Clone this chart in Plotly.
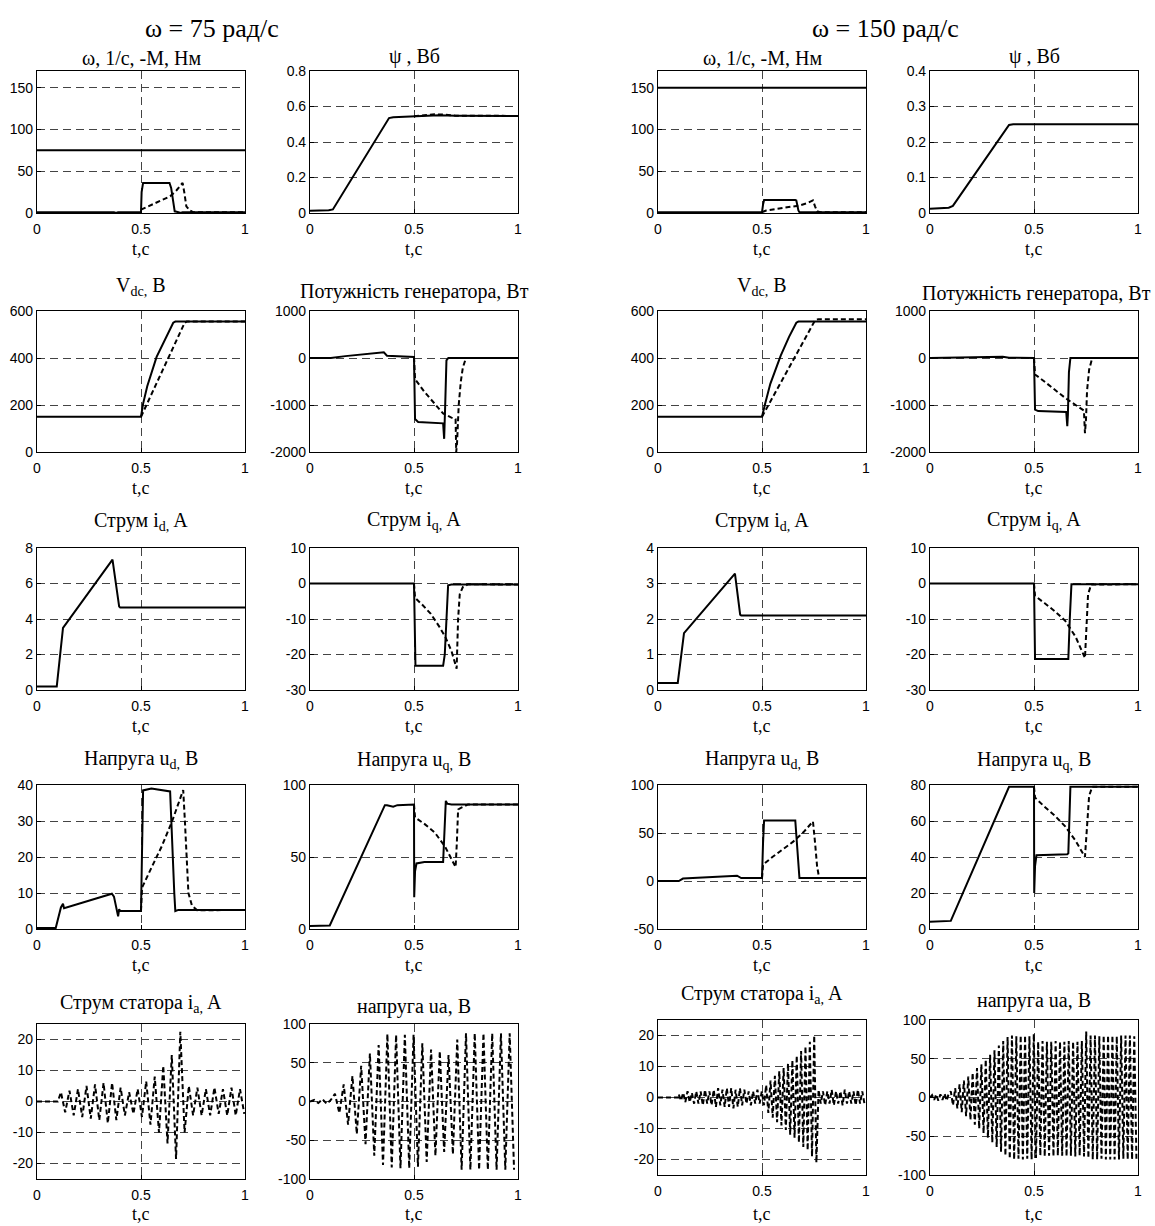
import numpy as np
import plotly.graph_objects as go

# ====================== DATA: ω = 75 рад/с ======================
t_const = [0, 1]
w75 = [75, 75]
m75_sol_t = [0, 0.37, 0.38, 0.39, 0.5, 0.503, 0.51, 0.6, 0.637, 0.645, 0.655, 0.662, 0.68, 0.69, 0.7, 1]
m75_sol_y = [1, 1, 0, 1, 1, 25, 36, 36, 36, 30, 10, 2, 1, 0, 1, 1]
m75_dsh_t = [0.5, 0.55, 0.6, 0.64, 0.67, 0.70, 0.708, 0.718, 0.735, 0.75, 1]
m75_dsh_y = [4, 10, 15, 20, 27, 36, 25, 8, 3, 1, 1]

psi75_t = [0, 0.09, 0.11, 0.38, 0.40, 0.5, 0.6, 0.62, 0.7, 1]
psi75_y = [0.012, 0.015, 0.02, 0.535, 0.54, 0.545, 0.552, 0.55, 0.548, 0.547]
psi75d_t = [0.5, 0.55, 0.6, 0.65, 0.7, 1]
psi75d_y = [0.545, 0.55, 0.556, 0.554, 0.548, 0.547]

vdc75_sol_t = [0, 0.5, 0.51, 0.53, 0.575, 0.62, 0.655, 0.665, 1]
vdc75_sol_y = [150, 150, 205, 280, 405, 490, 550, 555, 555]
vdc75_dsh_t = [0.5, 0.71, 0.72, 1]
vdc75_dsh_y = [150, 550, 555, 555]

p75_sol_t = [0, 0.1, 0.17, 0.27, 0.34, 0.355, 0.37, 0.49, 0.5, 0.505, 0.52, 0.64, 0.645, 0.65, 0.656, 0.665, 1]
p75_sol_y = [0, 0, 40, 80, 110, 120, 50, 20, 20, -1300, -1360, -1390, -1720, -1000, -50, 0, 0]
p75_dsh_t = [0.5, 0.505, 0.55, 0.6, 0.64, 0.68, 0.70, 0.703, 0.707, 0.715, 0.725, 0.735, 0.75, 1]
p75_dsh_y = [20, -450, -720, -980, -1180, -1270, -1300, -2000, -1800, -1000, -500, -200, 0, 0]

id75_t = [0, 0.095, 0.125, 0.363, 0.395, 0.4, 1]
id75_y = [0.2, 0.2, 3.5, 7.35, 4.7, 4.65, 4.65]

iq75_sol_t = [0, 0.5, 0.507, 0.64, 0.648, 0.664, 0.68, 1]
iq75_sol_y = [0, 0, -23.2, -23.2, -20, -0.5, -0.3, -0.3]
iq75_dsh_t = [0.5, 0.505, 0.54, 0.58, 0.62, 0.65, 0.68, 0.705, 0.712, 0.72, 0.735, 0.76, 1]
iq75_dsh_y = [0, -4, -6, -8.5, -12, -15, -19, -24, -10, -3, -1, -0.2, -0.3]

ud75_sol_t = [0, 0.09, 0.115, 0.125, 0.13, 0.36, 0.37, 0.385, 0.39, 0.395, 0.4, 0.5, 0.505, 0.51, 0.55, 0.6, 0.64, 0.66, 0.665, 0.68, 1]
ud75_sol_y = [0.3, 0.3, 6, 7, 5.8, 9.8, 9, 5.5, 3.5, 5.5, 5, 5, 20, 38.5, 39, 38.6, 38.2, 10, 5, 5.3, 5.3]
ud75_dsh_t = [0.5, 0.505, 0.55, 0.6, 0.65, 0.703, 0.711, 0.72, 0.728, 0.745, 0.77, 1]
ud75_dsh_y = [5, 11.5, 17, 23, 30, 38.6, 30, 18, 10, 6.5, 5.2, 5.3]

uq75_sol_t = [0, 0.095, 0.36, 0.37, 0.4, 0.42, 0.5, 0.501, 0.505, 0.512, 0.55, 0.64, 0.653, 0.66, 0.68, 1]
uq75_sol_y = [2, 2.5, 86, 86, 85, 86, 86.5, 22, 40, 45.5, 46.5, 46.5, 89, 87, 86.5, 86.5]
uq75_dsh_t = [0.5, 0.505, 0.55, 0.6, 0.65, 0.69, 0.70, 0.706, 0.712, 0.73, 0.76, 1]
uq75_dsh_y = [86.5, 77.5, 73, 67, 57, 46, 43, 60, 83, 84.5, 86.5, 86.5]

# stator current / voltage: peak values per cycle (upper, lower)
ia75_pre_t = [0, 0.1]
ia75_pre_y = [0, 0]
ia75_t0, ia75_half = 0.115, 0.0205
ia75_up = [3, 3.5, 4, 5, 5.5, 6, 6, 4.5, 3, 4, 6.5, 8, 11.5, 15, 22.5, 5, 4.5, 4, 4.5, 4, 4.5, 4]
ia75_lo = [-3.5, -4.5, -5, -5.5, -6, -7, -6, -4.5, -4, -5, -7.5, -10, -13.5, -18.5, -10, -4.5, -4.5, -4.5, -4, -4.5, -4.5, -4]

ua75_pre_t = [0, 0.02, 0.04, 0.06, 0.08, 0.1]
ua75_pre_y = [0, 2, -2, 3, -3, 2]
ua75_t0, ua75_half = 0.12, 0.021
ua75_up = [10, 22, 33, 46, 62, 73, 87, 86, 86, 86, 75, 67, 65, 60, 80, 88, 88, 88, 88, 88, 88]
ua75_lo = [-15, -30, -42, -55, -70, -82, -85, -86, -86, -84, -78, -70, -65, -68, -88, -88, -88, -88, -88, -88, -88]

# ====================== DATA: ω = 150 рад/с ======================
w150 = [150, 150]
m150_sol_t = [0, 0.5, 0.505, 0.51, 0.66, 0.665, 0.675, 0.68, 1]
m150_sol_y = [1, 1, 10, 15.5, 15.5, 15, 3, 1, 1]
m150_dsh_t = [0.5, 0.52, 0.6, 0.68, 0.72, 0.745, 0.755, 0.765, 0.78, 1]
m150_dsh_y = [1, 3, 6, 9, 12, 15, 8, 2, 1, 1]

psi150_t = [0, 0.09, 0.11, 0.38, 0.4, 1]
psi150_y = [0.012, 0.015, 0.02, 0.248, 0.25, 0.25]

vdc150_sol_t = [0, 0.5, 0.515, 0.54, 0.59, 0.63, 0.665, 0.675, 1]
vdc150_sol_y = [150, 150, 205, 290, 410, 490, 550, 555, 555]
vdc150_dsh_t = [0.5, 0.755, 0.77, 1]
vdc150_dsh_y = [150, 560, 565, 565]

p150_sol_t = [0, 0.3, 0.35, 0.38, 0.5, 0.505, 0.52, 0.655, 0.66, 0.663, 0.668, 0.675, 1]
p150_sol_y = [0, 10, 25, 5, 0, -1100, -1130, -1150, -1450, -1200, -300, 0, 0]
p150_dsh_t = [0.5, 0.505, 0.55, 0.6, 0.65, 0.7, 0.74, 0.745, 0.75, 0.755, 0.765, 0.78, 1]
p150_dsh_y = [0, -350, -500, -680, -850, -1000, -1120, -1600, -1300, -700, -250, 0, 0]

id150_t = [0, 0.095, 0.125, 0.37, 0.395, 0.4, 1]
id150_y = [0.2, 0.2, 1.6, 3.28, 2.12, 2.1, 2.1]

iq150_sol_t = [0, 0.5, 0.505, 0.665, 0.672, 0.68, 1]
iq150_sol_y = [0, 0, -21.3, -21.3, -10, -0.2, -0.2]
iq150_dsh_t = [0.5, 0.505, 0.55, 0.6, 0.65, 0.7, 0.745, 0.752, 0.76, 0.775, 1]
iq150_dsh_y = [0, -3.5, -5.5, -7.8, -10.5, -15, -21, -10, -3, -0.3, -0.2]

ud150_sol_t = [0, 0.1, 0.12, 0.37, 0.38, 0.4, 0.5, 0.505, 0.51, 0.66, 0.67, 0.68, 1]
ud150_sol_y = [0, 0, 2.5, 5, 5.5, 3, 3, 40, 63, 63, 30, 3, 3]
ud150_dsh_t = [0.5, 0.505, 0.55, 0.6, 0.65, 0.7, 0.745, 0.755, 0.765, 0.775, 1]
ud150_dsh_y = [3, 17, 25, 33, 41, 51, 62, 40, 15, 3, 3]

uq150_sol_t = [0, 0.1, 0.38, 0.5, 0.501, 0.505, 0.512, 0.66, 0.665, 0.675, 0.68, 1]
uq150_sol_y = [4, 4.5, 79, 79, 20, 35, 41, 41.5, 42, 79, 79, 79]
uq150_dsh_t = [0.5, 0.505, 0.55, 0.6, 0.65, 0.7, 0.745, 0.755, 0.765, 0.78, 1]
uq150_dsh_y = [79, 73, 68, 63, 57, 49, 40, 60, 74, 79, 79]

ia150_pre_t = [0, 0.1]
ia150_pre_y = [0, 0]
ia150_t0, ia150_half = 0.1, 0.0105
ia150_up = [1, 1.5, 2, 1.5, 2,
            2, 2.5, 2, 2.5, 3, 2.5, 3, 3, 2.5, 3,
            2.5, 2, 2, 2.5, 2,
            4, 5.5, 7, 8.5, 9.5, 11, 12, 13.5, 15, 16.5, 18, 20,
            2.5, 2, 2, 2.5, 2, 2, 2.5, 2, 2, 2.5, 2, 2]
ia150_lo = [-1, -1.5, -1.5, -2, -2,
            -2.5, -2, -2.5, -3, -2.5, -3, -3, -3.5, -3, -2.5,
            -2, -2.5, -2, -2, -2.5,
            -5, -6.5, -8, -9, -10.5, -12, -13, -14.5, -16, -17, -19, -21,
            -2, -2.5, -2, -2.5, -2, -2.5, -2, -2, -2.5, -2, -2, -2]

ua150_pre_t = [0, 0.01, 0.02, 0.03, 0.04, 0.05, 0.06, 0.07, 0.08, 0.09]
ua150_pre_y = [0, 3, -3, 4, -4, 4, -3, 5, -4, 5]
ua150_t0, ua150_half = 0.1, 0.0105
ua150_up = [8, 12, 17, 22, 27, 32, 38, 43, 49, 55, 61, 67, 73, 78,
            80, 79, 80, 80, 79, 82,
            72, 73, 72, 72, 73, 72, 72, 73, 72, 72, 73, 85,
            80, 80, 79, 80, 80, 80, 79, 80, 80, 80, 79, 78]
ua150_lo = [-10, -14, -19, -24, -29, -35, -40, -46, -52, -58, -64, -70, -75, -79,
            -80, -79, -80, -79, -80, -78,
            -75, -76, -75, -76, -75, -75, -76, -75, -76, -75, -76, -78,
            -80, -80, -79, -80, -80, -80, -80, -79, -80, -80, -80, -80]


def osc(pre_t, pre_y, t0, half, up, lo):
    vals = []
    for u, l in zip(up, lo):
        vals += [u, l]
    t = t0 + half * np.arange(len(vals))
    tt = np.array(list(pre_t) + list(t))
    yy = np.array(list(pre_y) + vals, dtype=float)
    keep = tt <= 1.0
    return tt[keep], yy[keep]


ia75_t, ia75_y = osc(ia75_pre_t, ia75_pre_y, ia75_t0, ia75_half, ia75_up, ia75_lo)
ua75_t, ua75_y = osc(ua75_pre_t, ua75_pre_y, ua75_t0, ua75_half, ua75_up, ua75_lo)
ia150_t, ia150_y = osc(ia150_pre_t, ia150_pre_y, ia150_t0, ia150_half, ia150_up, ia150_lo)
ua150_t, ua150_y = osc(ua150_pre_t, ua150_pre_y, ua150_t0, ua150_half, ua150_up, ua150_lo)

# ====================== LAYOUT ======================
W, H = 1155, 1226
COLS = [(37, 245), (310, 518), (658, 866), (930, 1138)]
ROWS_L = [(71, 213), (311, 452), (548, 690), (785, 929), (1024, 1179)]
ROWS_R = [(71, 213), (311, 452), (548, 690), (785, 929), (1020, 1175)]

T_OM = "ω, 1/с, -М, Нм"
T_PSI = "ψ , Вб"
T_VDC = "V<sub>dc,</sub> B"
T_P = "Потужність генератора, Вт"
T_ID = "Струм i<sub>d,</sub> A"
T_IQ = "Струм i<sub>q,</sub> A"
T_UD = "Напруга u<sub>d,</sub> B"
T_UQ = "Напруга u<sub>q,</sub> B"
T_IA = "Струм статора i<sub>a,</sub> A"
T_UA = "напруга ua, В"

S, D = 's', 'd'
panels = [
    dict(c=0, r=0, yr=[0, 170], yt=[0, 50, 100, 150], ti=T_OM, ty=58,
         lines=[(m75_dsh_t, m75_dsh_y, D), (t_const, w75, S), (m75_sol_t, m75_sol_y, S)]),
    dict(c=1, r=0, yr=[0, 0.8], yt=[0, 0.2, 0.4, 0.6, 0.8], ti=T_PSI, ty=56,
         lines=[(psi75_t, psi75_y, S), (psi75d_t, psi75d_y, D)]),
    dict(c=0, r=1, yr=[0, 600], yt=[0, 200, 400, 600], ti=T_VDC, ty=287,
         lines=[(vdc75_dsh_t, vdc75_dsh_y, D), (vdc75_sol_t, vdc75_sol_y, S)]),
    dict(c=1, r=1, yr=[-2000, 1000], yt=[-2000, -1000, 0, 1000], ti=T_P, ty=291,
         lines=[(p75_dsh_t, p75_dsh_y, D), (p75_sol_t, p75_sol_y, S)]),
    dict(c=0, r=2, yr=[0, 8], yt=[0, 2, 4, 6, 8], ti=T_ID, ty=521,
         lines=[(id75_t, id75_y, S)]),
    dict(c=1, r=2, yr=[-30, 10], yt=[-30, -20, -10, 0, 10], ti=T_IQ, ty=520,
         lines=[(iq75_dsh_t, iq75_dsh_y, D), (iq75_sol_t, iq75_sol_y, S)]),
    dict(c=0, r=3, yr=[0, 40], yt=[0, 10, 20, 30, 40], ti=T_UD, ty=759,
         lines=[(ud75_dsh_t, ud75_dsh_y, D), (ud75_sol_t, ud75_sol_y, S)]),
    dict(c=1, r=3, yr=[0, 100], yt=[0, 50, 100], ti=T_UQ, ty=760,
         lines=[(uq75_dsh_t, uq75_dsh_y, D), (uq75_sol_t, uq75_sol_y, S)]),
    dict(c=0, r=4, yr=[-25, 25], yt=[-20, -10, 0, 10, 20], ti=T_IA, ty=1003,
         lines=[(ia75_t, ia75_y, D)]),
    dict(c=1, r=4, yr=[-100, 100], yt=[-100, -50, 0, 50, 100], ti=T_UA, ty=1007,
         lines=[(ua75_t, ua75_y, D)]),
    dict(c=2, r=0, yr=[0, 170], yt=[0, 50, 100, 150], ti=T_OM, ty=58,
         lines=[(m150_dsh_t, m150_dsh_y, D), (t_const, w150, S), (m150_sol_t, m150_sol_y, S)]),
    dict(c=3, r=0, yr=[0, 0.4], yt=[0, 0.1, 0.2, 0.3, 0.4], ti=T_PSI, ty=56,
         lines=[(psi150_t, psi150_y, S)]),
    dict(c=2, r=1, yr=[0, 600], yt=[0, 200, 400, 600], ti=T_VDC, ty=287,
         lines=[(vdc150_dsh_t, vdc150_dsh_y, D), (vdc150_sol_t, vdc150_sol_y, S)]),
    dict(c=3, r=1, yr=[-2000, 1000], yt=[-2000, -1000, 0, 1000], ti=T_P, ty=294, right=True,
         lines=[(p150_dsh_t, p150_dsh_y, D), (p150_sol_t, p150_sol_y, S)]),
    dict(c=2, r=2, yr=[0, 4], yt=[0, 1, 2, 3, 4], ti=T_ID, ty=521,
         lines=[(id150_t, id150_y, S)]),
    dict(c=3, r=2, yr=[-30, 10], yt=[-30, -20, -10, 0, 10], ti=T_IQ, ty=520,
         lines=[(iq150_dsh_t, iq150_dsh_y, D), (iq150_sol_t, iq150_sol_y, S)]),
    dict(c=2, r=3, yr=[-50, 100], yt=[-50, 0, 50, 100], ti=T_UD, ty=759,
         lines=[(ud150_dsh_t, ud150_dsh_y, D), (ud150_sol_t, ud150_sol_y, S)]),
    dict(c=3, r=3, yr=[0, 80], yt=[0, 20, 40, 60, 80], ti=T_UQ, ty=760,
         lines=[(uq150_dsh_t, uq150_dsh_y, D), (uq150_sol_t, uq150_sol_y, S)]),
    dict(c=2, r=4, yr=[-25, 25], yt=[-20, -10, 0, 10, 20], ti=T_IA, ty=994,
         lines=[(ia150_t, ia150_y, D)]),
    dict(c=3, r=4, yr=[-100, 100], yt=[-100, -50, 0, 50, 100], ti=T_UA, ty=1000,
         lines=[(ua150_t, ua150_y, D)]),
]

SERIF = "Liberation Serif, Times New Roman, serif"
SANS = "Liberation Sans, Arial, sans-serif"
TITLE_SIZE = 20
LABEL_SIZE = 18

common = dict(showline=True, mirror=True, linecolor='black', linewidth=1.2,
              ticks='inside', ticklen=4, tickcolor='black',
              showgrid=True, gridcolor='#444', gridwidth=1, griddash='8px,5px',
              zeroline=False, fixedrange=True, automargin=False,
              tickfont=dict(family=SANS, size=14, color='black'))

fig = go.Figure()
layout = dict(width=W, height=H, margin=dict(l=0, r=0, t=0, b=0, pad=0, autoexpand=False),
              paper_bgcolor='white', plot_bgcolor='white', showlegend=False)
annotations = []

for i, p in enumerate(panels):
    n = i + 1
    xa = 'xaxis' if n == 1 else f'xaxis{n}'
    ya = 'yaxis' if n == 1 else f'yaxis{n}'
    xr = 'x' if n == 1 else f'x{n}'
    yr = 'y' if n == 1 else f'y{n}'
    x0, x1 = COLS[p['c']]
    rows = ROWS_L if p['c'] < 2 else ROWS_R
    y0, y1 = rows[p['r']]
    layout[xa] = dict(domain=[x0 / W, x1 / W], anchor=yr, range=[0, 1],
                      tickvals=[0, 0.5, 1], ticktext=['0', '0.5', '1'],
                      ticklabelstandoff=3, **common)
    layout[ya] = dict(domain=[1 - y1 / H, 1 - y0 / H], anchor=xr, range=p['yr'],
                      tickvals=p['yt'], ticktext=[f"{v:g}" for v in p['yt']], **common)
    for tx, tyv, st in p['lines']:
        fig.add_trace(go.Scatter(
            x=list(tx), y=list(tyv), mode='lines', xaxis=xr, yaxis=yr, hoverinfo='skip',
            line=dict(color='black', width=2, dash='solid' if st == S else '5px,3px')))
    # subplot title
    if p.get('right'):
        annotations.append(dict(text=p['ti'], x=1153 / W, y=1 - p['ty'] / H, xref='paper', yref='paper',
                                xanchor='right', yanchor='middle', showarrow=False,
                                font=dict(family=SERIF, size=TITLE_SIZE, color='black')))
    else:
        annotations.append(dict(text=p['ti'], x=(x0 + x1) / 2 / W, y=1 - p['ty'] / H, xref='paper', yref='paper',
                                xanchor='center', yanchor='middle', showarrow=False,
                                font=dict(family=SERIF, size=TITLE_SIZE, color='black')))
    # x axis label
    if p['r'] < 4:
        ly = y1 + 36
    else:
        ly = y1 + (35 if p['c'] < 2 else 39)
    annotations.append(dict(text="t,c", x=(x0 + x1) / 2 / W, y=1 - ly / H, xref='paper', yref='paper',
                            xanchor='center', yanchor='middle', showarrow=False,
                            font=dict(family=SERIF, size=LABEL_SIZE, color='black')))

annotations.append(dict(text="ω = 75 рад/с", x=212 / W, y=1 - 28 / H, xref='paper', yref='paper',
                        xanchor='center', yanchor='middle', showarrow=False,
                        font=dict(family=SERIF, size=26, color='black')))
annotations.append(dict(text="ω = 150 рад/с", x=885 / W, y=1 - 28 / H, xref='paper', yref='paper',
                        xanchor='center', yanchor='middle', showarrow=False,
                        font=dict(family=SERIF, size=26, color='black')))

layout['annotations'] = annotations
fig.update_layout(**layout)
fig.write_html("out.html", config={'displayModeBar': False},
               post_script="document.body.style.margin='0';document.body.style.overflow='hidden';")
